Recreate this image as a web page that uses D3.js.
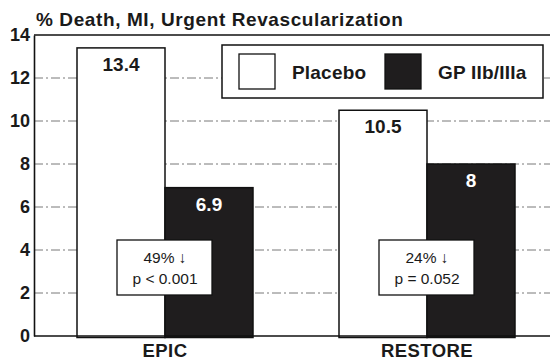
<!DOCTYPE html>
<html>
<head>
<meta charset="utf-8">
<script src="https://cdn.jsdelivr.net/npm/d3@7/dist/d3.min.js"></script>
<style>
  html, body { margin: 0; padding: 0; background: #fff; }
  svg { display: block; }
  text { font-family: "Liberation Sans", Arial, Helvetica, sans-serif; }
</style>
</head>
<body>
<svg id="chart" width="550" height="360"></svg>
<script>
// Trial groups and treatment series
const groups = ["EPIC", "RESTORE"];
const series = ["Placebo", "GP IIb/IIIa"];
const placeboValues = [13.4, 10.5];
const gpValues = [6.9, 8];
const yTicks = [0, 2, 4, 6, 8, 10, 12, 14];
const reductionLabels = ["49% \u2193", "24% \u2193"];
const pValueLabels = ["p < 0.001", "p = 0.052"];
const title = "% Death, MI, Urgent Revascularization";

const rows = groups.map((g, i) => ({
  group: g,
  values: [
    { series: series[0], value: placeboValues[i] },
    { series: series[1], value: gpValues[i] }
  ],
  reduction: reductionLabels[i],
  pValue: pValueLabels[i]
}));

const svg = d3.select("#chart");
const plotLeft = 34, plotTop = 35, plotBottom = 336, plotRight = 550;

const y = d3.scaleLinear().domain([0, 14]).range([plotBottom, plotTop]);
const x = d3.scaleBand().domain(groups).range([plotLeft, plotLeft + 524]);
const barW = 88;
const xs = d3.scaleBand().domain(series).range([-barW, barW]);
const fills = d3.scaleOrdinal().domain(series).range(["#ffffff", "#1f1d1e"]);
const labelFill = d3.scaleOrdinal().domain(series).range(["#1a1a1a", "#ffffff"]);

// dash-dot gridlines
svg.append("g")
  .selectAll("line")
  .data(yTicks.filter(t => t > 0 && t < 14))
  .join("line")
  .attr("x1", plotLeft).attr("x2", plotRight)
  .attr("y1", d => y(d)).attr("y2", d => y(d))
  .attr("stroke", "#555")
  .attr("stroke-width", 0.8)
  .attr("stroke-dasharray", "9,3,2,3");

// top frame line
svg.append("line")
  .attr("x1", plotLeft).attr("x2", plotRight)
  .attr("y1", y(14)).attr("y2", y(14))
  .attr("stroke", "#111").attr("stroke-width", 1.6);

// bars
const gGroups = svg.append("g").selectAll("g")
  .data(rows).join("g")
  .attr("transform", d => `translate(${x(d.group) + x.bandwidth() / 2},0)`);

gGroups.selectAll("rect")
  .data(d => d.values).join("rect")
  .attr("x", d => xs(d.series))
  .attr("y", d => y(d.value))
  .attr("width", xs.bandwidth())
  .attr("height", d => y(0) - y(d.value) + 1.5)
  .attr("fill", d => fills(d.series))
  .attr("stroke", "#111")
  .attr("stroke-width", 1.5);

gGroups.selectAll("text.val")
  .data(d => d.values).join("text")
  .attr("class", "val")
  .attr("x", d => xs(d.series) + xs.bandwidth() / 2)
  .attr("y", d => y(d.value) + 23)
  .attr("text-anchor", "middle")
  .attr("font-size", 19)
  .attr("font-weight", "bold")
  .attr("fill", d => labelFill(d.series))
  .text(d => d.value);

// reduction / p-value boxes
const ann = gGroups.append("g").attr("class", "ann");
ann.append("rect")
  .attr("x", -48).attr("y", 240)
  .attr("width", 95).attr("height", 55)
  .attr("fill", "#fff")
  .attr("stroke", "#111").attr("stroke-width", 1.3);
ann.append("text")
  .attr("x", 0).attr("y", 263)
  .attr("text-anchor", "middle")
  .attr("font-size", 15.5)
  .attr("fill", "#1a1a1a")
  .text(d => d.reduction);
ann.append("text")
  .attr("x", 0).attr("y", 284)
  .attr("text-anchor", "middle")
  .attr("font-size", 15.5)
  .attr("fill", "#1a1a1a")
  .text(d => d.pValue);

// axes
const yAxis = d3.axisLeft(y).tickValues(yTicks).tickSize(0).tickPadding(4);
const ga = svg.append("g").attr("transform", `translate(${plotLeft},0)`).call(yAxis);
ga.select(".domain").attr("stroke", "#111").attr("stroke-width", 1.6);
ga.selectAll("text")
  .attr("font-size", 18).attr("font-weight", "bold")
  .attr("fill", "#1a1a1a")
  .attr("font-family", "Liberation Sans, Arial, sans-serif");

svg.append("line")
  .attr("x1", plotLeft).attr("x2", plotRight)
  .attr("y1", y(0)).attr("y2", y(0))
  .attr("stroke", "#111").attr("stroke-width", 1.6);

const xAxis = d3.axisBottom(x).tickSize(0).tickPadding(0);
const gx = svg.append("g").attr("transform", `translate(0,${y(0)})`).call(xAxis);
gx.select(".domain").remove();
gx.selectAll("text")
  .attr("dy", null)
  .attr("y", 20.5)
  .attr("font-size", 18.5).attr("font-weight", "bold")
  .attr("letter-spacing", 0.4)
  .attr("fill", "#1a1a1a")
  .attr("font-family", "Liberation Sans, Arial, sans-serif");

// title
svg.append("text")
  .attr("x", 36).attr("y", 26)
  .attr("font-size", 19).attr("font-weight", "bold")
  .attr("letter-spacing", 0.6)
  .attr("fill", "#1a1a1a")
  .text(title);

// legend
const lg = svg.append("g").attr("transform", "translate(222,45)");
lg.append("rect")
  .attr("width", 321).attr("height", 53)
  .attr("fill", "#fff")
  .attr("stroke", "#111").attr("stroke-width", 1.5);
const legX = d3.scaleOrdinal().domain(series).range([17, 163]);
const li = lg.selectAll("g.item").data(series).join("g")
  .attr("class", "item")
  .attr("transform", d => `translate(${legX(d)},9)`);
li.append("rect")
  .attr("width", 36).attr("height", 35)
  .attr("fill", d => fills(d))
  .attr("stroke", "#111").attr("stroke-width", 1.3);
li.append("text")
  .attr("x", 53).attr("y", 24.5)
  .attr("font-size", 19).attr("font-weight", "bold")
  .attr("letter-spacing", 0.2)
  .attr("fill", "#1a1a1a")
  .text(d => d);
</script>
</body>
</html>
